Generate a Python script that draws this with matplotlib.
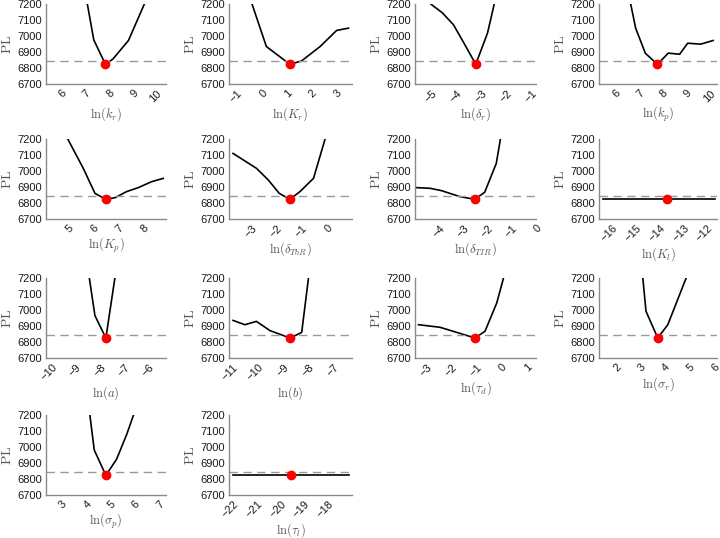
import matplotlib
matplotlib.use("Agg")
import matplotlib.pyplot as plt

plt.rcParams["font.family"] = ["Liberation Sans", "DejaVu Sans"]
plt.rcParams["mathtext.fontset"] = "cm"

# profile-likelihood curves (x = ln(param), y = PL)
labels = [r"$\ln(k_r)$", r"$\ln(K_r)$", r"$\ln(\delta_r)$", r"$\ln(k_p)$",
          r"$\ln(K_p)$", r"$\ln(\delta_{TbR})$", r"$\ln(\delta_{TIR})$", r"$\ln(K_l)$",
          r"$\ln(a)$", r"$\ln(b)$", r"$\ln(\tau_d)$", r"$\ln(\sigma_r)$",
          r"$\ln(\sigma_p)$", r"$\ln(\tau_l)$"]

x_kr = [7.09, 7.36, 7.85, 8.16, 8.82, 9.49]
y_kr = [7200, 6976, 6823, 6855, 6972, 7200]
x_Kr = [-0.40, 0.18, 0.72, 1.13, 1.60, 2.35, 3.02, 3.50]
y_Kr = [7200, 6934, 6871, 6823, 6844, 6934, 7035, 7049]
x_dr = [-5.04, -4.57, -4.13, -3.71, -3.24, -2.77, -2.50]
y_dr = [7200, 7144, 7070, 6955, 6823, 7018, 7200]
x_kp = [6.65, 6.86, 7.27, 7.78, 8.24, 8.72, 9.06, 9.61, 10.14]
y_kp = [7200, 7049, 6892, 6823, 6893, 6886, 6955, 6949, 6972]
x_Kp = [4.98, 5.60, 6.07, 6.51, 6.87, 7.33, 7.80, 8.33, 8.80]
y_Kp = [7200, 7017, 6860, 6823, 6833, 6871, 6896, 6933, 6954]
x_dTbR = [-3.73, -2.80, -2.33, -1.89, -1.47, -1.07, -0.53, -0.07]
y_dTbR = [7110, 7017, 6944, 6860, 6823, 6871, 6954, 7200]
x_dTIR = [-4.93, -4.38, -3.90, -3.15, -2.53, -2.12, -1.64, -1.47]
y_dTIR = [6896, 6892, 6877, 6840, 6823, 6867, 7048, 7200]
x_Kl = [-16.4, -13.7, -11.7]
y_Kl = [6823, 6823, 6823]
x_a = [-8.45, -8.22, -7.77, -7.40]
y_a = [7200, 6965, 6825, 7200]
x_b = [-11.0, -10.53, -10.07, -9.53, -8.73, -8.27, -8.0]
y_b = [6935, 6908, 6929, 6871, 6825, 6860, 7200]
x_td = [-3.33, -2.47, -1.80, -1.07, -0.67, -0.20, 0.07]
y_td = [6908, 6892, 6860, 6825, 6867, 7044, 7200]
x_sr = [3.10, 3.23, 3.71, 4.12, 4.87]
y_sr = [7200, 6992, 6825, 6908, 7200]
x_sp = [4.16, 4.34, 4.82, 5.26, 5.68, 5.96]
y_sp = [7200, 6981, 6823, 6923, 7079, 7200]
x_tl = [-22.0, -19.57, -17.14]
y_tl = [6823, 6823, 6823]

xs = [x_kr, x_Kr, x_dr, x_kp, x_Kp, x_dTbR, x_dTIR, x_Kl, x_a, x_b, x_td, x_sr, x_sp, x_tl]
ys = [y_kr, y_Kr, y_dr, y_kp, y_Kp, y_dTbR, y_dTIR, y_Kl, y_a, y_b, y_td, y_sr, y_sp, y_tl]
# optimum (red dot)
best_x = [7.85, 1.13, -3.24, 7.78, 6.51, -1.47, -2.53, -13.7, -7.77, -8.73, -1.07, 3.71, 4.82, -19.57]
best_y = [6823, 6823, 6823, 6823, 6823, 6823, 6823, 6823, 6825, 6825, 6825, 6825, 6823, 6823]
threshold = 6845

xlims = [(5.35, 10.4), (-1.33, 3.64), (-5.67, -0.83), (5.31, 10.3),
         (4.11, 8.91), (-3.89, 1.0), (-5.0, 0.0), (-16.56, -11.6),
         (-10.23, -5.3), (-11.16, -6.27), (-3.47, 1.37), (1.31, 6.13),
         (2.35, 7.3), (-22.17, -17.0)]
xticks = [[6, 7, 8, 9, 10], [-1, 0, 1, 2, 3], [-5, -4, -3, -2, -1], [6, 7, 8, 9, 10],
          [5, 6, 7, 8], [-3, -2, -1, 0], [-4, -3, -2, -1, 0], [-16, -15, -14, -13, -12],
          [-10, -9, -8, -7, -6], [-11, -10, -9, -8, -7], [-3, -2, -1, 0, 1], [2, 3, 4, 5, 6],
          [3, 4, 5, 6, 7], [-22, -21, -20, -19, -18]]

W, H = 720, 538
fig = plt.figure(figsize=(W / 100, H / 100), dpi=100)
col_left = [46, 229, 415, 599]
col_w = [120, 123, 121, 118]
row_top = [4, 139, 278, 415]
row_h = 80
GR = "#8a8a8a"

for i in range(14):
    r, c = divmod(i, 4)
    ax = fig.add_axes([col_left[c] / W, 1 - (row_top[r] + row_h) / H, col_w[c] / W, row_h / H])
    ax.plot(xs[i], ys[i], color="black", lw=1.2)
    ax.axhline(threshold, color="#999999", ls=(0, (6, 4)), lw=1.0)
    ax.plot(best_x[i], best_y[i], "o", color="red", ms=6, zorder=5, clip_on=False)
    ax.set_xlim(*xlims[i]); ax.set_ylim(6700, 7200)
    ax.set_yticks([6700, 6800, 6900, 7000, 7100, 7200])
    ax.set_xticks(xticks[i])
    for s in ["top", "right"]: ax.spines[s].set_visible(False)
    for s in ["left", "bottom"]:
        ax.spines[s].set_color(GR); ax.spines[s].set_linewidth(1.0)
    ax.tick_params(length=0, labelsize=8, pad=3, colors="#1a1a1a")
    plt.setp(ax.get_xticklabels(), rotation=45, ha="right", rotation_mode="anchor")
    ax.set_ylabel(r"$\mathrm{PL}$", fontsize=10, color="#555555", labelpad=2)
    ax.set_xlabel(labels[i], fontsize=9, color="#555555", labelpad=1)

fig.savefig("out.png", dpi=100)
